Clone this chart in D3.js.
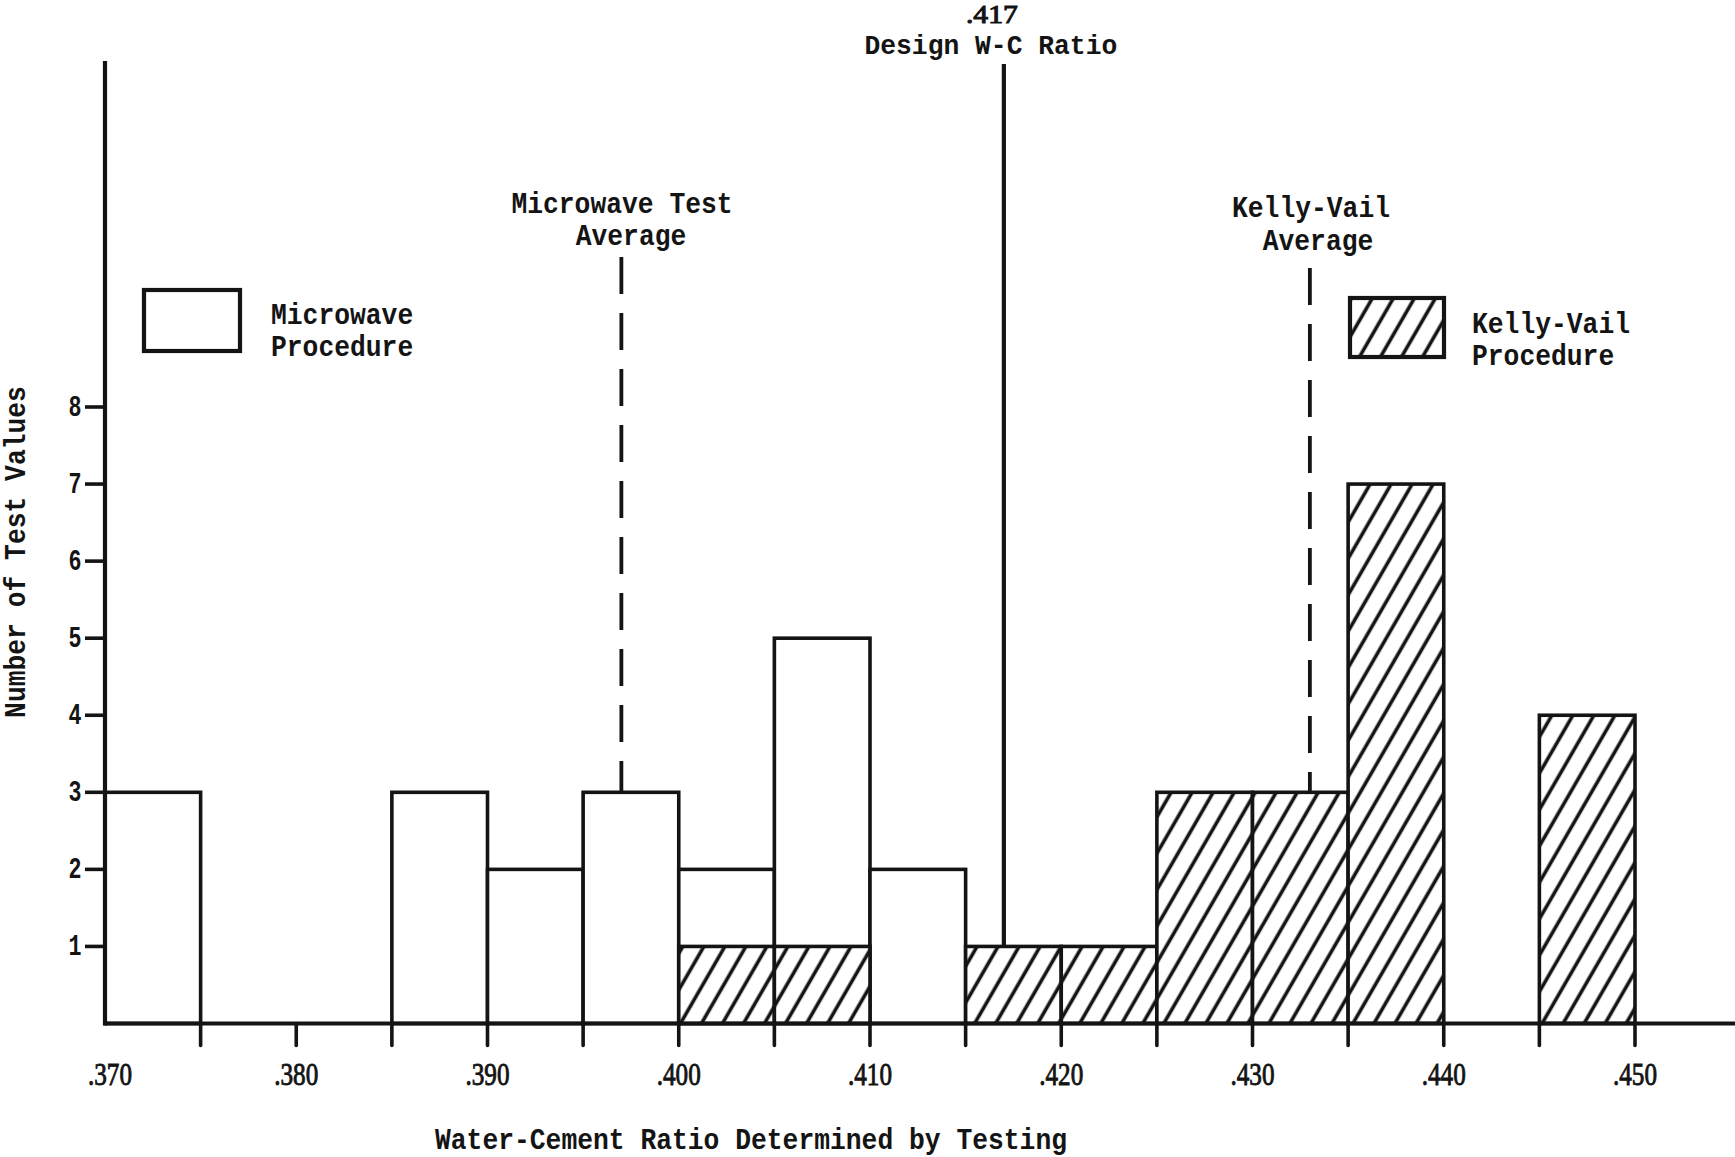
<!DOCTYPE html>
<html>
<head>
<meta charset="utf-8">
<script src="https://cdn.jsdelivr.net/npm/d3@7"></script>
<style>
  html, body { margin: 0; padding: 0; background: #fff; }
  svg { display: block; }
</style>
</head>
<body>
<svg id="chart" width="1735" height="1157"></svg>
<script>
// Histogram bins: lower edge of each 0.005-wide water-cement ratio class
const binStarts = [0.370, 0.375, 0.380, 0.385, 0.390, 0.395, 0.400, 0.405,
                   0.410, 0.415, 0.420, 0.425, 0.430, 0.435, 0.440, 0.445];
const binWidth = 0.005;

// Number of test values per bin
const microwaveCounts = [3, 0, 0, 3, 2, 3, 2, 5, 2, 0, 0, 0, 0, 0, 0, 0];
const kellyVailCounts = [0, 0, 0, 0, 0, 0, 1, 1, 0, 1, 1, 3, 3, 7, 0, 4];

// Axis ticks and labels
const xTickValues = [0.375, 0.380, 0.385, 0.390, 0.395, 0.400, 0.405, 0.410,
                     0.415, 0.420, 0.425, 0.430, 0.435, 0.440, 0.445, 0.450];
const xLabelValues = [0.370, 0.380, 0.390, 0.400, 0.410, 0.420, 0.430, 0.440, 0.450];
const xLabelText = [".370", ".380", ".390", ".400", ".410", ".420", ".430", ".440", ".450"];
const yTickValues = [1, 2, 3, 4, 5, 6, 7, 8];

// Reference lines
const designRatio = 0.417;
const microwaveAverage = 0.397;
const kellyVailAverage = 0.433;

const svg = d3.select("#chart");
const INK = "#141414";
const TYPE_FONT = "'Liberation Mono', 'Courier New', monospace";
const NUM_FONT = "'Liberation Serif', 'Times New Roman', serif";
const CHAR_W = 15.8;   // advance of one typewritten character

const x = d3.scaleLinear().domain([0.370, 0.450]).range([105, 1635]);
const y = d3.scaleLinear().domain([0, 8]).range([1023.5, 407]);
const y0 = y(0);

// Diagonal hatching for the Kelly-Vail bars
const defs = svg.append("defs");
const hatch = defs.append("pattern")
  .attr("id", "hatch")
  .attr("patternUnits", "userSpaceOnUse")
  .attr("width", 18.2).attr("height", 18.2)
  .attr("patternTransform", "rotate(30)");
hatch.append("rect").attr("width", 18.2).attr("height", 18.2).attr("fill", "#fff");
hatch.append("line")
  .attr("x1", 9).attr("y1", -2).attr("x2", 9).attr("y2", 20.2)
  .attr("stroke", INK).attr("stroke-width", 3.6);

// Typewritten text, compressed to a fixed character pitch
function typed(str, cx, cy, opts = {}) {
  const len = opts.len || str.length * CHAR_W;
  const t = svg.append("text")
    .attr("x", cx - len / 2)
    .attr("y", cy + (opts.shift || 9))
    .attr("textLength", len)
    .attr("lengthAdjust", "spacingAndGlyphs")
    .attr("font-family", opts.font || TYPE_FONT)
    .attr("font-weight", opts.weight || "bold")
    .attr("font-size", opts.size || 30)
    .attr("fill", INK)
    .text(str);
  if (opts.thicken) t.attr("stroke", INK).attr("stroke-width", opts.thicken);
  if (opts.rotate) t.attr("transform", `rotate(${opts.rotate},${cx},${cy})`);
  return t;
}

// Microwave bars (open)
const bins = binStarts.map((b, i) => ({ b, mw: microwaveCounts[i], kv: kellyVailCounts[i] }));
svg.append("g").selectAll("rect")
  .data(bins.filter(d => d.mw > 0))
  .join("rect")
  .attr("x", d => x(d.b))
  .attr("y", d => y(d.mw))
  .attr("width", d => x(d.b + binWidth) - x(d.b))
  .attr("height", d => y0 - y(d.mw))
  .attr("fill", "#fff")
  .attr("stroke", INK)
  .attr("stroke-width", 3.6);

// Kelly-Vail bars (hatched)
svg.append("g").selectAll("rect")
  .data(bins.filter(d => d.kv > 0))
  .join("rect")
  .attr("x", d => x(d.b))
  .attr("y", d => y(d.kv))
  .attr("width", d => x(d.b + binWidth) - x(d.b))
  .attr("height", d => y0 - y(d.kv))
  .attr("fill", "url(#hatch)")
  .attr("stroke", INK)
  .attr("stroke-width", 3.6);

// Axes
svg.append("line")
  .attr("x1", x(0.370)).attr("x2", 1735)
  .attr("y1", y0).attr("y2", y0)
  .attr("stroke", INK).attr("stroke-width", 3.8);
svg.append("line")
  .attr("x1", x(0.370)).attr("x2", x(0.370))
  .attr("y1", 61).attr("y2", y0 + 1.9)
  .attr("stroke", INK).attr("stroke-width", 4.2);

// Ticks below the x axis at every bin edge
svg.append("g").selectAll("line")
  .data(xTickValues)
  .join("line")
  .attr("x1", d => x(d)).attr("x2", d => x(d))
  .attr("y1", y0).attr("y2", y0 + 22)
  .attr("stroke", INK).attr("stroke-width", 3.6)
  .attr("stroke-linecap", "round");

xLabelValues.forEach((v, i) => {
  typed(xLabelText[i], x(v) + (i === 0 ? 5 : 0), 1074,
        { font: NUM_FONT, weight: "normal", size: 31, len: 44, shift: 11, thicken: 0.9 });
});

// Y ticks
svg.append("g").selectAll("line")
  .data(yTickValues)
  .join("line")
  .attr("x1", x(0.370) - 20).attr("x2", x(0.370))
  .attr("y1", d => y(d)).attr("y2", d => y(d))
  .attr("stroke", INK).attr("stroke-width", 3.6);
yTickValues.forEach(v => {
  typed(String(v), 75, y(v), { len: 13, size: 29 });
});

// Axis titles
typed("Number of Test Values", 16, 552, { rotate: -90 });
typed("Water-Cement Ratio Determined by Testing", 751, 1140);

// Design water-cement ratio
svg.append("line")
  .attr("x1", x(designRatio)).attr("x2", x(designRatio))
  .attr("y1", 64).attr("y2", y(1))
  .attr("stroke", INK).attr("stroke-width", 4.2);
typed(".417", x(designRatio) - 12, 15,
      { font: NUM_FONT, weight: "normal", size: 25, len: 52, shift: 8, thicken: 1.0 });
typed("Design W-C Ratio", x(designRatio) - 13, 45, { size: 28 });

// Microwave test average
svg.append("line")
  .attr("x1", x(microwaveAverage)).attr("x2", x(microwaveAverage))
  .attr("y1", 257).attr("y2", y(3))
  .attr("stroke", INK).attr("stroke-width", 3.8)
  .attr("stroke-dasharray", "37,19");
typed("Microwave Test", 622, 204);
typed("Average", 631, 236);

// Kelly-Vail average
svg.append("line")
  .attr("x1", x(kellyVailAverage)).attr("x2", x(kellyVailAverage))
  .attr("y1", 268).attr("y2", y(3))
  .attr("stroke", INK).attr("stroke-width", 3.8)
  .attr("stroke-dasharray", "37,19");
typed("Kelly-Vail", 1311, 208);
typed("Average", 1318, 241);

// Legend
svg.append("rect")
  .attr("x", 144).attr("y", 290).attr("width", 96).attr("height", 61)
  .attr("fill", "#fff").attr("stroke", INK).attr("stroke-width", 4.2);
typed("Microwave", 271 + 9 * CHAR_W / 2, 315);
typed("Procedure", 271 + 9 * CHAR_W / 2, 347);

svg.append("rect")
  .attr("x", 1350).attr("y", 298).attr("width", 94).attr("height", 59)
  .attr("fill", "url(#hatch)").attr("stroke", INK).attr("stroke-width", 4.2);
typed("Kelly-Vail", 1472 + 10 * CHAR_W / 2, 324);
typed("Procedure", 1472 + 9 * CHAR_W / 2, 356);
</script>
</body>
</html>
